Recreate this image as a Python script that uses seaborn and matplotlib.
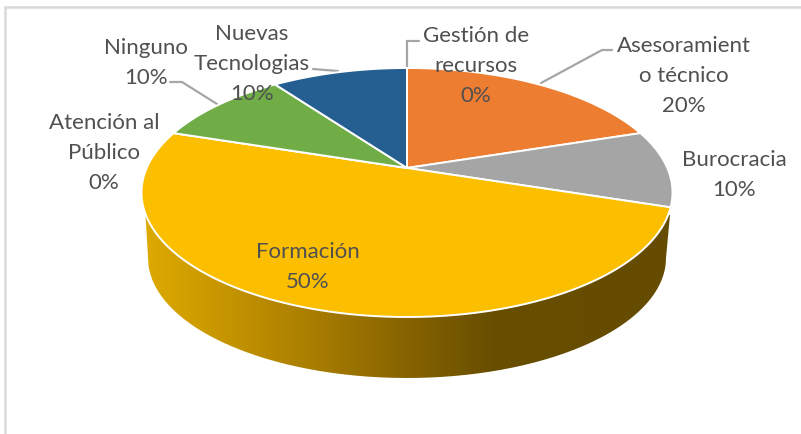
import numpy as np
import matplotlib
matplotlib.use("Agg")
import matplotlib.pyplot as plt
import seaborn as sns
from matplotlib.colors import LinearSegmentedColormap
from matplotlib.patches import PathPatch
from matplotlib.path import Path
from matplotlib.transforms import Affine2D, Transform

# Data
categories = ["Asesoramient\no técnico", "Burocracia", "Formación", "Atención al\nPúblico",
              "Ninguno", "Nuevas\nTecnologias", "Gestión de\nrecursos"]
shares = [20, 10, 50, 0, 10, 10, 0]
colors = ["#ED7D31", "#A5A5A5", "#FBBF00", "#5B9BD5", "#70AD47", "#255E91", "#9E480E"]

sns.set_theme(style="white")
plt.rcParams["font.family"] = ["Lato", "DejaVu Sans"]

W, H = 801, 434
CX, CY, RX, RY = 407.0, 192.5, 265.5, 124.5   # top ellipse in pixels
K = 0.197                                    # how far the apex sits above the ellipse centre
BCY, BRX, BRY = 258.0, 259.0, 120.0          # lower rim of the side wall


class PieProjection(Transform):
    """Perspective view of the unit pie: the circle maps to an ellipse, the centre to the apex."""
    input_dims = output_dims = 2
    is_affine = False
    has_inverse = False

    def transform_non_affine(self, values):
        v = np.asarray(values, dtype=float)
        d = 1 + K * v[:, 1]
        x = v[:, 0] * np.sqrt(1 - K ** 2) / d
        y = (v[:, 1] + K) / d
        return np.column_stack([CX + RX * x, CY - RY * y])

    def transform_path_non_affine(self, path):
        polys = path.to_polygons(Affine2D().scale(2000), closed_only=True)
        if not polys:
            return Path(self.transform_non_affine(path.vertices), path.codes)
        return Path(self.transform_non_affine(polys[0] / 2000), closed=True)


fig = plt.figure(figsize=(W / 100, H / 100), dpi=100, facecolor="white")
ax = fig.add_axes([0, 0, 1, 1])

palette = sns.color_palette(colors)
wedges, _ = ax.pie(shares, colors=palette, startangle=90, counterclock=False,
                   wedgeprops=dict(edgecolor="white", linewidth=1.4))
projection = PieProjection() + ax.transData
for w in wedges:
    w.set_transform(projection)
    w.set_zorder(3)
    w.set_clip_on(False)

ax.set_aspect("auto")
ax.set_xlim(0, W)
ax.set_ylim(H, 0)
ax.set_axis_off()

# Side wall of the large slice, shaded from left to right
shade = LinearSegmentedColormap.from_list(
    "wall", [(0.0, "#DDAA00"), (0.2, "#BE8E00"), (0.48, "#8A6600"), (0.66, "#684E00"), (1.0, "#664C00")])
t = np.linspace(np.pi, 0, 200)
rim = np.column_stack([CX + BRX * np.cos(t), BCY + BRY * np.sin(t)])
outline = np.vstack([[[145.5, 215.0]], rim, [[670.0, 215.0]], [[145.5, 215.0]]])
clip = PathPatch(Path(outline, closed=False), transform=ax.transData, facecolor="none", edgecolor="none")
ax.add_patch(clip)
img = ax.imshow(np.linspace(0, 1, 512)[None, :], cmap=shade, aspect="auto",
                extent=(145, 672, 380, 210), zorder=1)
img.set_clip_path(clip)
ax.set_xlim(0, W)
ax.set_ylim(H, 0)

# Chart area border
ax.plot([5, 5, W], [H, 7, 7], color="#D9D9D9", lw=1.8, zorder=0, solid_joinstyle="miter")

# Leader lines
leader = dict(color="#A6A6A6", lw=1.6, zorder=2, solid_joinstyle="miter")
ax.plot([407, 407, 419], [68, 41, 41], **leader)
ax.plot([541, 602, 612], [83, 50, 50], **leader)
ax.plot([313, 338], [69, 71], **leader)
ax.plot([170, 182, 217], [82, 82, 104], **leader)

# Labels: category name and percentage
centers = [(684, 76), (734, 175), (308, 267), (104, 153), (146, 63), (252, 64), (476, 66)]
for name, share, (x, y) in zip(categories, shares, centers):
    ax.text(x, y, f"{name}\n{share}%", ha="center", va="center", multialignment="center",
            fontsize=16, color="#505050", linespacing=1.6, zorder=5)

fig.savefig("out.png", dpi=100, facecolor="white")
